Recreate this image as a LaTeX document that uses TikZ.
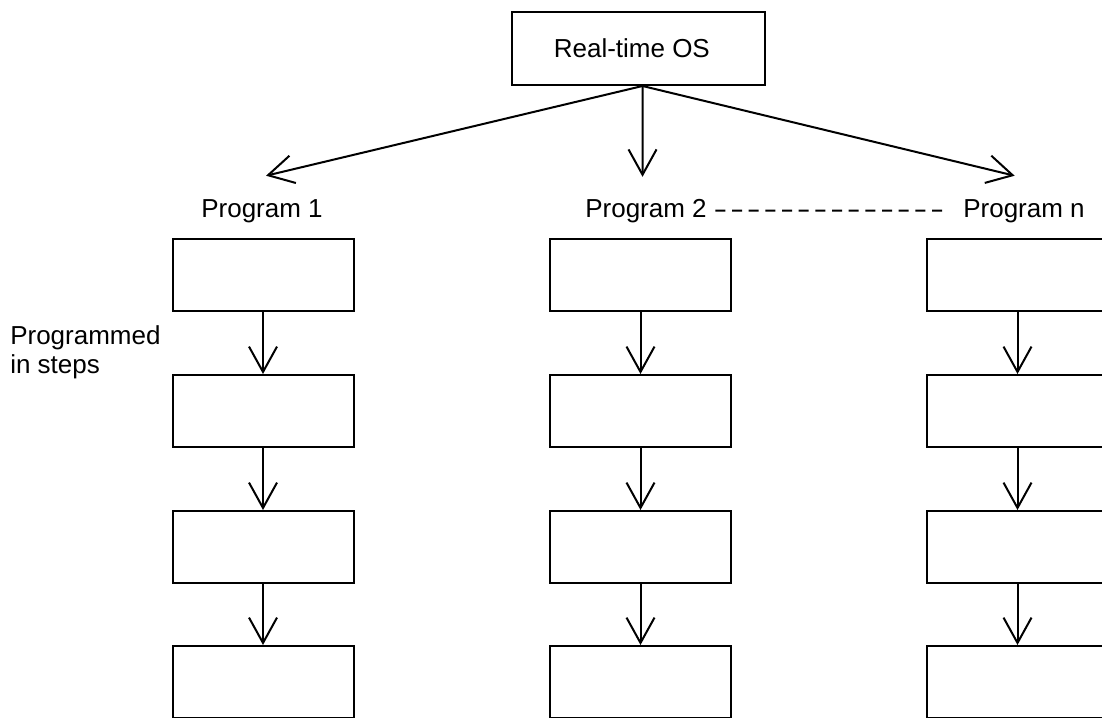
\documentclass[tikz,border=0pt]{standalone}
\usepackage{fontspec}
\setmainfont{Liberation Sans}
\usetikzlibrary{arrows.meta}
\tikzset{
  stepbox/.style={draw,line width=1.5pt,minimum width=135.75pt,minimum height=54pt,inner sep=0pt},
  link/.style={line width=1.5pt,-{Straight Barb[length=19pt,width=21pt,line width=1.5pt]}},
  gap/.style={line width=1.5pt,dash pattern=on 7.5pt off 5pt},
}
\begin{document}
\begin{tikzpicture}[x=0.75pt,y=-0.75pt,font=\fontsize{19.5}{21.75}\selectfont]
  \useasboundingbox (0,0) rectangle (1102,717);
  \clip (0,0) rectangle (1102,717);
  \node[stepbox,minimum width=189.75pt,minimum height=54.75pt] (os) at (638.5,48.5) {Real-time OS\hspace*{10pt}};
  \coordinate (fork) at ([xshift=3pt]os.south);
  % program labels
  \node[anchor=base] (p1) at (262,217) {Program 1};
  \node[anchor=base] (p2) at (646,217) {Program 2};
  \node[anchor=base] (pn) at (1024,217) {Program n};
  \draw[gap,shorten <=3pt,shorten >=9pt] (p2) -- (pn);
  \draw[link] (fork) -- ([yshift=14pt,xshift=3pt]p1.north);
  \draw[link] (fork) -- ([yshift=13pt,xshift=-2.6pt]p2.north);
  \draw[link] (fork) -- ([yshift=14pt,xshift=-7pt]pn.north);
  \node[anchor=north west,align=left,inner sep=0pt] (note) at (10,325) {Programmed\\in steps};
  % step boxes
  \foreach \c/\x in {1/263,2/640.5,3/1017.5} {
    \foreach \r/\y in {1/275,2/411,3/547,4/682}
      \node[stepbox] (b\c\r) at (\x,\y) {};
    \foreach \r/\s in {1/2,2/3,3/4}
      \draw[link] (b\c\r) -- (b\c\s);
  }
\end{tikzpicture}
\end{document}
